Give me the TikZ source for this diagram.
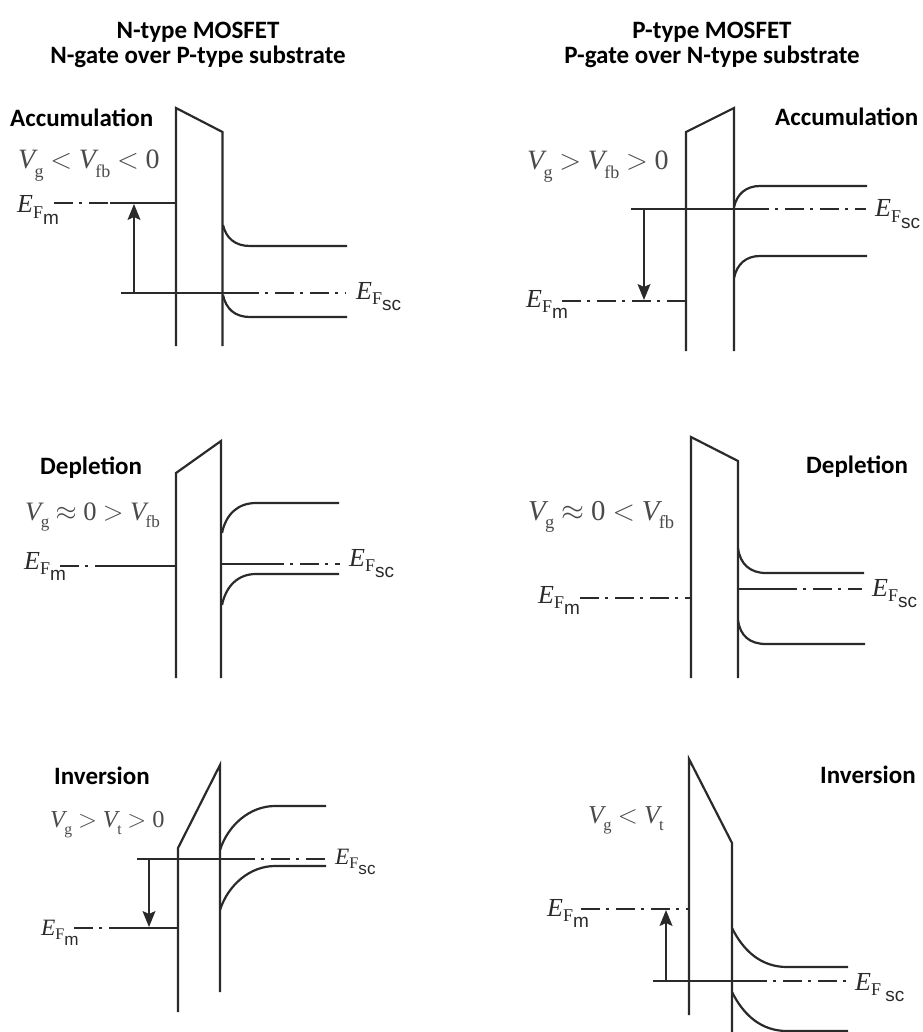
\documentclass[tikz,border=0pt]{standalone}
\usepackage{fontspec}
\setmainfont{Carlito}
\setsansfont{Liberation Sans}
\newfontfamily\timesfont{Liberation Serif}
\usetikzlibrary{arrows.meta}
\definecolor{inkdark}{HTML}{2A2A2A}
\definecolor{voltgrey}{HTML}{4A4A4A}
\newcommand{\vsub}[1]{\kern-0.12em\raisebox{-0.3em}{\fontsize{18}{18}\selectfont #1}}
\newcommand{\rel}[1]{\kern0.24em\scalebox{1.15}{$#1$}\kern0.24em}
\newcommand{\efermi}[1]{\textit{E}\raisebox{-0.2em}{\fontsize{18}{18}\selectfont F}\raisebox{-0.45em}{\fontsize{19}{19}\selectfont\sffamily #1}}
\tikzset{
  headlabel/.style={font=\fontsize{25}{29}\selectfont\bfseries, text=black, inner sep=0pt, anchor=base},
  regionlabel/.style={font=\fontsize{25}{29}\selectfont\bfseries, text=black, inner sep=0pt, anchor=base west},
  voltlabel/.style={font=\fontsize{28}{31}\timesfont\selectfont, text=voltgrey, inner sep=0pt, anchor=base west},
  fermilabel/.style={font=\fontsize{26}{30}\timesfont\selectfont, text=inkdark, inner sep=0pt, anchor=base west},
  barrier/.style={draw=inkdark, line width=2.2pt, line join=miter},
  band/.style={draw=inkdark, line width=2.2pt},
  refline/.style={draw=inkdark, line width=1.2pt},
  gateline/.style={draw=inkdark, line width=2.2pt},
  levelline/.style={draw=inkdark, line width=2.2pt, dash pattern=on 19pt off 6pt on 3pt off 7pt},
  gap/.style={draw=inkdark, line width=1.3pt, -{Stealth[length=16pt, width=13pt, inset=3pt]}}
}
\begin{document}
\begin{tikzpicture}[x=1pt, y=-1pt]
  \useasboundingbox (0,0) rectangle (922,1032);
  % column titles
  \node[headlabel] (ntitle) at (198,39) {N-type MOSFET};
  \node[headlabel] (nsub) at (198,64) {N-gate over P-type substrate};
  \node[headlabel] (ptitle) at (712,39) {P-type MOSFET};
  \node[headlabel] (psub) at (712,64) {P-gate over N-type substrate};

  % N accumulation
  \node[regionlabel] (regA) at (10,127) {Accumulation};
  \node[voltlabel] (voltA) at (18,169) {\textit{V}\vsub{g}\rel{<}\textit{V}\vsub{fb}\rel{<}0};
  \node[fermilabel] (emA) at (17,213) {\efermi{m}};
  \node[fermilabel] (esA) at (356,299) {\efermi{sc}};
  \coordinate (gA) at (176,203);
  \coordinate (rA) at (134,293);
  \draw[barrier] (176,346) -- (176,108) -- (222.5,132) -- (222.5,346);
  \draw[levelline] (54,203) -- (110,203);
  \draw[gateline] (110,203) -- (gA);
  \draw[refline] (121,293) -- (240,293);
  \draw[levelline] (240,293) -- (346,293);
  \draw[band] (223,225) .. controls (226,238) and (235,246) .. (250,246) -- (347,246);
  \draw[band] (223,295) .. controls (226,309) and (235,317) .. (250,317) -- (347,317);
  \draw[gap] (rA) -- (134,204);

  % P accumulation
  \node[regionlabel] (regB) at (775,126) {Accumulation};
  \node[voltlabel] (voltB) at (527,170) {\textit{V}\vsub{g}\rel{>}\textit{V}\vsub{fb}\rel{>}0};
  \node[fermilabel] (emB) at (526,307) {\efermi{m}};
  \node[fermilabel] (esB) at (875,217) {\efermi{sc}};
  \coordinate (gB) at (686,301);
  \coordinate (rB) at (644,209);
  \draw[barrier] (686,351) -- (686,132) -- (734,108) -- (734,351);
  \draw[levelline] (562,301) -- (gB);
  \draw[refline] (631,209) -- (750,209);
  \draw[levelline] (750,209) -- (866,209);
  \draw[band] (734,207) .. controls (737,194) and (746,186) .. (760,186) -- (867,186);
  \draw[band] (734,278) .. controls (737,264) and (746,256) .. (760,256) -- (867,256);
  \draw[gap] (rB) -- (644,300);

  % N depletion
  \node[regionlabel] (regC) at (40,474) {Depletion};
  \node[voltlabel, scale=.95] (voltC) at (25,520) {\textit{V}\vsub{g}\rel{\approx}0\rel{>}\textit{V}\vsub{fb}};
  \node[fermilabel] (emC) at (24,569) {\efermi{m}};
  \node[fermilabel] (esC) at (349,566) {\efermi{sc}};
  \coordinate (gC) at (176,566);
  \draw[barrier] (176,678) -- (176,473) -- (221,441) -- (221,678);
  \draw[levelline] (60,566) -- (114,566);
  \draw[gateline] (114,566) -- (gC);
  \draw[gateline] (221,564) -- (265,564);
  \draw[levelline] (265,564) -- (340,564);
  \draw[band] (222,533) .. controls (226,514) and (238,503) .. (256,503) -- (339,503);
  \draw[band] (222,605) .. controls (226,586) and (238,574) .. (256,574) -- (339,574);

  % P depletion
  \node[regionlabel] (regD) at (806,473) {Depletion};
  \node[voltlabel, scale=1.03] (voltD) at (528,520) {\textit{V}\vsub{g}\rel{\approx}0\rel{<}\textit{V}\vsub{fb}};
  \node[fermilabel] (emD) at (538,603) {\efermi{m}};
  \node[fermilabel] (esD) at (872,596) {\efermi{sc}};
  \coordinate (gD) at (691,598);
  \draw[barrier] (691,678) -- (691,437) -- (738,461) -- (738,678);
  \draw[levelline] (580,598) -- (gD);
  \draw[gateline] (738,589) -- (778,589);
  \draw[levelline] (778,589) -- (862,589);
  \draw[band] (738,548) .. controls (740,564) and (750,573) .. (766,573) -- (864,573);
  \draw[band] (738,620) .. controls (740,636) and (750,644) .. (766,644) -- (865,644);

  % N inversion
  \node[regionlabel] (regE) at (54,784) {Inversion};
  \node[voltlabel, scale=.87] (voltE) at (50,827) {\textit{V}\vsub{g}\rel{>}\textit{V}\vsub{t}\rel{>}0};
  \node[fermilabel, scale=.9] (emE) at (41,935) {\efermi{m}};
  \node[fermilabel, scale=.9] (esE) at (335,864) {\efermi{sc}};
  \coordinate (gE) at (178,928);
  \coordinate (rE) at (149,859);
  \draw[barrier] (178,1012) -- (178,848) -- (220,765) -- (220,992);
  \draw[levelline] (74,928) -- (122,928);
  \draw[gateline] (122,928) -- (gE);
  \draw[refline] (137,859) -- (236,859);
  \draw[levelline] (236,859) -- (326,859);
  \draw[band] (220,850) .. controls (228,825) and (250,806) .. (275,806) -- (326,806);
  \draw[band] (220,910) .. controls (228,885) and (250,866) .. (275,866) -- (326,866);
  \draw[gap] (rE) -- (149,927);

  % P inversion
  \node[regionlabel] (regF) at (820,783) {Inversion};
  \node[voltlabel, scale=.92] (voltF) at (588,823) {\textit{V}\vsub{g}\rel{<}\textit{V}\vsub{t}};
  \node[fermilabel] (emF) at (547,916) {\efermi{m}};
  \node[fermilabel] (esF) at (855,990) {\textit{E}\raisebox{-0.2em}{\fontsize{18}{18}\selectfont F}\,\raisebox{-0.45em}{\fontsize{19}{19}\selectfont\sffamily sc}};
  \coordinate (gF) at (689,909);
  \coordinate (rF) at (666,981);
  \draw[barrier] (689,1015) -- (689,759) -- (732,843) -- (732,1032);
  \draw[levelline] (581,909) -- (gF);
  \draw[refline] (653,981) -- (748,981);
  \draw[levelline] (748,981) -- (848,981);
  \draw[band] (732,928) .. controls (744,952) and (762,967) .. (787,967) -- (848,967);
  \draw[band] (732,992) .. controls (744,1016) and (762,1031) .. (787,1031) -- (848,1031);
  \draw[gap] (rF) -- (666,910);
\end{tikzpicture}
\end{document}
